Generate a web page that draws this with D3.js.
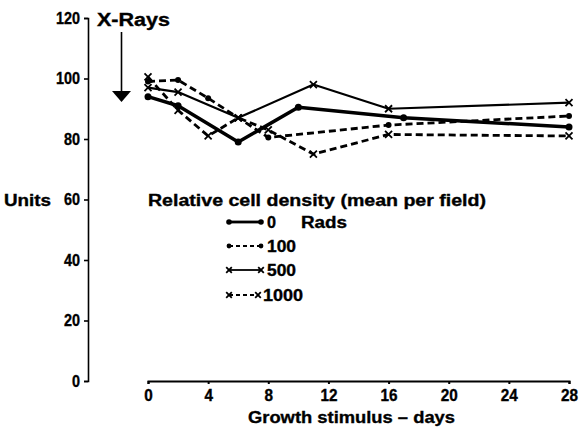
<!DOCTYPE html>
<html>
<head>
<meta charset="utf-8">
<script src="https://cdn.jsdelivr.net/npm/d3@7"></script>
<style>
    body { margin: 0; background: #fff; }
    text { font-family: "Liberation Sans", Arial, sans-serif; font-weight: bold; fill: #000; stroke: #000; stroke-width: 0.35px; }
</style>
</head>
<body>
<div id="chart"></div>
<script>
// values (days after growth stimulus, relative cell density)
const days0 = [0, 2, 6, 10, 17, 28];
const rads0 = [94, 91, 79, 90.5, 87, 84];
const days100 = [0, 2, 4, 8, 16, 28];
const rads100 = [99, 99.5, 93.5, 80.5, 84.6, 87.6];
const days500 = [0, 2, 6, 11, 16, 28];
const rads500 = [97, 95.5, 87, 98, 90, 92];
const days1000 = [0, 2, 4, 6, 8, 11, 16, 28];
const rads1000 = [100.5, 89.5, 81, 87, 83, 75, 81.5, 81];
const seriesNames = ["0", "100", "500", "1000"];
const xTicks = [0, 4, 8, 12, 16, 20, 24, 28];
const yTicks = [0, 20, 40, 60, 80, 100, 120];

const width = 579, height = 434;

const svg = d3.select("#chart").append("svg")
    .attr("width", width)
    .attr("height", height);

const x = d3.scaleLinear().domain([0, 28]).range([148, 569]);
const y = d3.scaleLinear().domain([0, 120]).range([381, 18]);

// squeeze text to the condensed width of the original lettering
function fit(sel, w) {
    sel.attr("textLength", w).attr("lengthAdjust", "spacingAndGlyphs");
}

// axes
const yAxis = svg.append("g")
    .attr("transform", "translate(88,0)")
    .call(d3.axisLeft(y).tickValues(yTicks).tickSize(4).tickSizeOuter(4).tickPadding(4));
yAxis.select(".domain").attr("stroke-width", 1.6);
yAxis.selectAll(".tick line").attr("stroke-width", 1.6);
yAxis.selectAll("text")
    .attr("fill", "#000")
    .style("font-size", "16px")
    .style("font-weight", "bold")
    .each(function (d) { fit(d3.select(this), String(d).length * 8); });

const xAxis = svg.append("g")
    .attr("transform", "translate(0,381)")
    .call(d3.axisBottom(x).tickValues(xTicks).tickSize(3).tickSizeOuter(3).tickPadding(6));
xAxis.select(".domain").attr("stroke-width", 2);
xAxis.selectAll(".tick line").attr("stroke-width", 2);
xAxis.selectAll("text")
    .attr("fill", "#000")
    .style("font-size", "16px")
    .style("font-weight", "bold")
    .each(function (d) { fit(d3.select(this), String(d).length * 8.5); });

svg.append("text")
    .attr("x", 4).attr("y", y(60) + 6)
    .style("font-size", "16px")
    .text("Units")
    .call(fit, 47);

svg.append("text")
    .attr("x", 248).attr("y", 423)
    .style("font-size", "17px")
    .text("Growth  stimulus – days")
    .call(fit, 207);

// X-ray arrow
svg.append("text")
    .attr("x", 97).attr("y", 26)
    .style("font-size", "18px")
    .text("X-Rays")
    .call(fit, 73);
svg.append("line")
    .attr("x1", 121.5).attr("x2", 121.5)
    .attr("y1", 32).attr("y2", 92)
    .attr("stroke", "#000").attr("stroke-width", 1.6);
svg.append("path")
    .attr("d", "M112,91 L131,91 L121.5,102 Z")
    .attr("fill", "#000");

// series
const styles = {
    "0": { dash: null, width: 3.5, mark: "dot", r: 3.5 },
    "100": { dash: "7,4", width: 2.8, mark: "dot", r: 3 },
    "500": { dash: null, width: 2.2, mark: "cross", r: 3.5 },
    "1000": { dash: "7,4", width: 2.8, mark: "cross", r: 3.5 },
};
const seriesData = {
    "0": days0.map((d, i) => [d, rads0[i]]),
    "100": days100.map((d, i) => [d, rads100[i]]),
    "500": days500.map((d, i) => [d, rads500[i]]),
    "1000": days1000.map((d, i) => [d, rads1000[i]]),
};

const line = d3.line().x(d => x(d[0])).y(d => y(d[1]));

function drawMark(g, cx, cy, st, scale = 1) {
    if (st.mark === "dot") {
        g.append("circle")
            .attr("cx", cx).attr("cy", cy).attr("r", st.r * scale)
            .attr("fill", "#000");
    } else {
        const s = st.r * scale;
        g.append("path")
            .attr("d", `M${cx - s},${cy - s}L${cx + s},${cy + s}M${cx - s},${cy + s}L${cx + s},${cy - s}`)
            .attr("stroke", "#000").attr("stroke-width", 1.8).attr("fill", "none");
    }
}

seriesNames.forEach(name => {
    const st = styles[name];
    const g = svg.append("g");
    g.append("path")
        .datum(seriesData[name])
        .attr("d", line)
        .attr("fill", "none")
        .attr("stroke", "#000")
        .attr("stroke-width", st.width)
        .attr("stroke-linejoin", "round")
        .attr("stroke-dasharray", st.dash);
    seriesData[name].forEach(d => drawMark(g, x(d[0]), y(d[1]), st));
});

// legend
svg.append("text")
    .attr("x", 148).attr("y", 206)
    .style("font-size", "16px")
    .text("Relative cell density (mean per field)")
    .call(fit, 338);

const legendRows = [222, 246, 270, 295];
const legendLabelWidth = { "0": 9, "100": 29, "500": 29, "1000": 40 };
seriesNames.forEach((name, i) => {
    const st = styles[name];
    const ly = legendRows[i];
    const g = svg.append("g");
    const x1 = 229, x2 = name === "1000" ? 258 : 261;
    g.append("line")
        .attr("x1", x1).attr("x2", x2).attr("y1", ly).attr("y2", ly)
        .attr("stroke", "#000")
        .attr("stroke-width", st.mark === "dot" ? st.width * 0.8 : 1.8)
        .attr("stroke-dasharray", st.dash ? "4,3" : null);
    drawMark(g, x1, ly, st, 0.8);
    drawMark(g, x2, ly, st, 0.8);
    g.append("text")
        .attr("x", name === "1000" ? 263 : 267).attr("y", ly + 6)
        .style("font-size", "16px")
        .text(name)
        .call(fit, legendLabelWidth[name]);
});
svg.append("text")
    .attr("x", 301).attr("y", legendRows[0] + 6)
    .style("font-size", "16px")
    .text("Rads")
    .call(fit, 46);
</script>
</body>
</html>
